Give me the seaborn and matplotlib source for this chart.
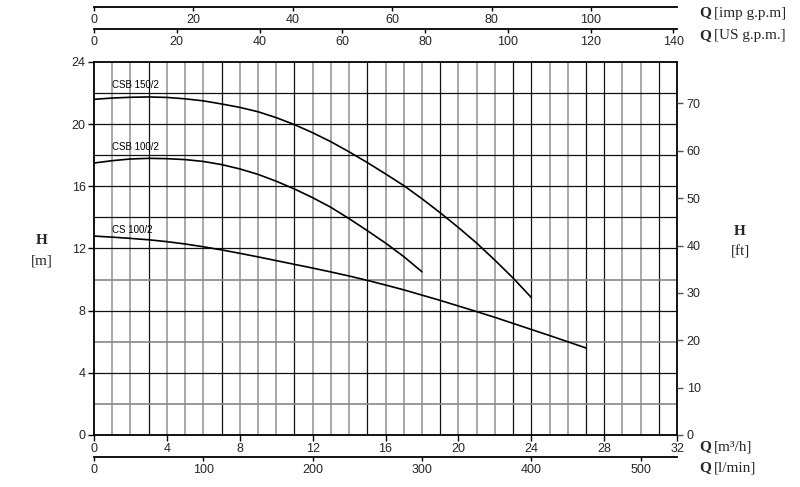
import numpy as np
import pandas as pd
import matplotlib
matplotlib.use("Agg")
import matplotlib.pyplot as plt
import seaborn as sns

# pump curves: Q [m3/h] -> H [m]
q_csb150 = list(range(0, 25))
h_csb150 = [21.6, 21.68, 21.73, 21.75, 21.72, 21.63, 21.5, 21.3, 21.08, 20.8,
            20.42, 19.97, 19.45, 18.87, 18.22, 17.53, 16.8, 16.05, 15.2, 14.3,
            13.35, 12.35, 11.25, 10.1, 8.85]

q_csb100 = list(range(0, 19))
h_csb100 = [17.5, 17.65, 17.76, 17.8, 17.78, 17.72, 17.6, 17.4, 17.12, 16.77,
            16.33, 15.83, 15.27, 14.65, 13.92, 13.15, 12.35, 11.48, 10.5]

q_cs100 = list(range(0, 28))
h_cs100 = [12.8, 12.73, 12.65, 12.56, 12.44, 12.29, 12.11, 11.91, 11.69, 11.46,
           11.22, 10.98, 10.74, 10.49, 10.23, 9.95, 9.65, 9.34, 9.0, 8.66,
           8.3, 7.94, 7.57, 7.18, 6.79, 6.4, 6.0, 5.6]

labels = ["CSB 150/2", "CSB 100/2", "CS 100/2"]
label_h = [22.2, 18.2, 12.9]

m_ticks = np.arange(0, 25, 4)
q_ticks = np.arange(0, 33, 4)
ft_ticks = np.arange(0, 71, 10)
usgpm_ticks = np.arange(0, 141, 20)
impgpm_ticks = np.arange(0, 101, 20)
lmin_ticks = np.arange(0, 501, 100)

M_TO_FT = 1 / 0.3048
US_GPM = 4.4029
IMP_GPM = 3.6662
L_MIN = 1000 / 60

df = pd.concat([
    pd.DataFrame({"Q": q_csb150, "H": h_csb150, "pump": labels[0]}),
    pd.DataFrame({"Q": q_csb100, "H": h_csb100, "pump": labels[1]}),
    pd.DataFrame({"Q": q_cs100, "H": h_cs100, "pump": labels[2]}),
])

sns.set_theme(style="white")
plt.rcParams["font.family"] = ["Liberation Sans", "DejaVu Sans"]

fig = plt.figure(figsize=(8, 4.87), dpi=100)
ax = fig.add_axes([0.1175, 0.1068, 0.7288, 0.7659])

# grid
for x in range(1, 32):
    dark = x % 4 == 3 or x in (24, 28)
    ax.axvline(x, color="#111111" if dark else "#9a9a9a", lw=0.9 if dark else 1.2, zorder=1)
for y in range(2, 24, 2):
    dark = y not in (2, 6, 10)
    ax.axhline(y, color="#111111" if dark else "#888888", lw=0.9 if dark else 1.2, zorder=1)

sns.lineplot(data=df, x="Q", y="H", units="pump", estimator=None, color="black",
             lw=1.2, ax=ax, legend=False, zorder=3)

for lab, h in zip(labels, label_h):
    ax.text(1.0, h, lab, fontsize=7, color="black", va="bottom", ha="left", zorder=4)

ax.set_xlim(0, 32)
ax.set_ylim(0, 24)
ax.set_xticks(q_ticks)
ax.set_yticks(m_ticks)
ax.set_xlabel("")
ax.set_ylabel("")
ax.tick_params(axis="both", which="major", direction="out", length=4, width=1,
               color="black", labelsize=9, pad=2, bottom=True, left=True)
for s in ["left", "bottom", "right", "top"]:
    ax.spines[s].set_color("black")
    ax.spines[s].set_linewidth(1.3)
    ax.spines[s].set_zorder(5)

# right axis in feet
ax2 = ax.twinx()
ax2.set_ylim(0, 24 * M_TO_FT)
ax2.set_yticks(ft_ticks)
ax2.tick_params(axis="y", direction="out", length=4, width=1, color="#555555",
                labelsize=9, pad=3, right=True)
ax2.grid(False)
for s in ax2.spines.values():
    s.set_visible(False)

# extra Q scales
top_us = ax.secondary_xaxis(1.0885, functions=(lambda q: q * US_GPM, lambda g: g / US_GPM))
top_imp = ax.secondary_xaxis(1.1475, functions=(lambda q: q * IMP_GPM, lambda g: g / IMP_GPM))
bot_l = ax.secondary_xaxis(-0.058, functions=(lambda q: q * L_MIN, lambda v: v / L_MIN))
for sec, ticks in [(top_us, usgpm_ticks), (top_imp, impgpm_ticks), (bot_l, lmin_ticks)]:
    sec.set_alignment("bottom")
    sec.set_xticks(ticks)
    sec.tick_params(axis="x", direction="out", length=3, width=1, color="black",
                    labelsize=9, pad=2)
    sec.spines["bottom"].set_color("black")
    sec.spines["bottom"].set_linewidth(1.3)

serif = ["Liberation Serif", "DejaVu Serif"]


def unit_label(x, y, unit):
    fig.text(x, y, "Q", fontsize=11, fontweight="bold", family=serif, va="center", ha="left")
    fig.text(x + 0.018, y, unit, fontsize=11, family=serif, va="center", ha="left")


unit_label(0.874, 1 - 13 / 487, "[imp g.p.m]")
unit_label(0.874, 1 - 36 / 487, "[US g.p.m.]")
unit_label(0.874, 1 - 447 / 487, "[m³/h]")
unit_label(0.874, 1 - 468 / 487, "[l/min]")

fig.text(0.052, 1 - 241 / 487, "H", fontsize=11, fontweight="bold", family=serif, ha="center", va="center")
fig.text(0.052, 1 - 261 / 487, "[m]", fontsize=11, family=serif, ha="center", va="center")
fig.text(0.925, 1 - 232 / 487, "H", fontsize=11, fontweight="bold", family=serif, ha="center", va="center")
fig.text(0.925, 1 - 252 / 487, "[ft]", fontsize=11, family=serif, ha="center", va="center")

fig.savefig("out.png", dpi=100, facecolor="white")
